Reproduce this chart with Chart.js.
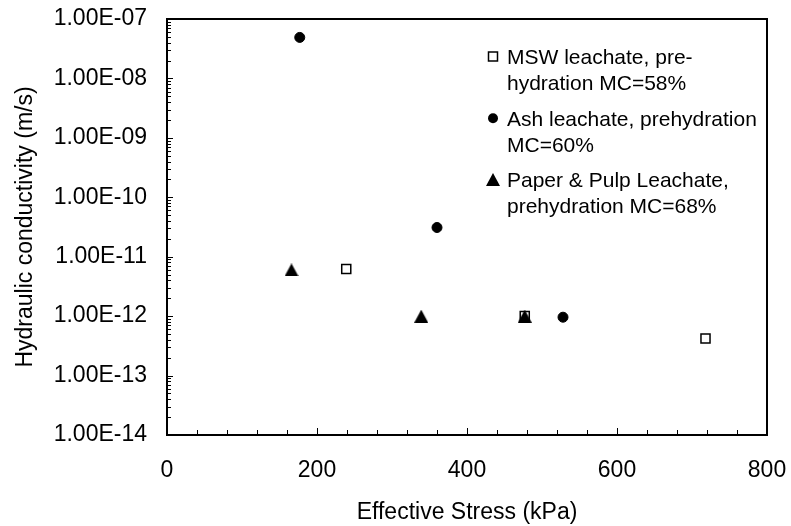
<!DOCTYPE html>
<html>
<head>
<meta charset="utf-8">
<title>Hydraulic conductivity vs effective stress</title>
<script src="https://cdn.jsdelivr.net/npm/chart.js"></script>
<style>
  body { margin: 0; background: #fff; }
  #wrap { width: 791px; height: 526px; }
</style>
</head>
<body>
<div id="wrap"><canvas id="chart" width="791" height="526"></canvas></div>
<script>
// values: effective stress (kPa) vs hydraulic conductivity (m/s)
const mswStress = [239, 477, 718];
const mswK = [6.2e-12, 1.0e-12, 4.2e-13];
const ashStress = [177, 360, 528];
const ashK = [4.9e-8, 3.1e-11, 9.6e-13];
const paperStress = [166, 339, 477];
const paperK = [6.0e-12, 1.0e-12, 1.0e-12];

const seriesNames = [
  'MSW leachate, pre-hydration MC=58%',
  'Ash leachate, prehydration MC=60%',
  'Paper & Pulp Leachate, prehydration MC=68%'
];
const legendLines = [
  ['MSW leachate, pre-', 'hydration MC=58%'],
  ['Ash leachate, prehydration', 'MC=60%'],
  ['Paper & Pulp Leachate,', 'prehydration MC=68%']
];

const xTicks = [0, 200, 400, 600, 800];
const yTicks = [1e-14, 1e-13, 1e-12, 1e-11, 1e-10, 1e-9, 1e-8, 1e-7];
const yTickLabels = ['1.00E-14', '1.00E-13', '1.00E-12', '1.00E-11',
                     '1.00E-10', '1.00E-09', '1.00E-08', '1.00E-07'];

const FONT = "'Liberation Sans', Arial, sans-serif";

function points(xs, ys) {
  return xs.map((x, i) => ({ x: x, y: ys[i] }));
}

// filled triangle centred on its box (Chart.js' own triangle sits a bit high)
function triangleMark(w, h) {
  const c = document.createElement('canvas');
  c.width = w;
  c.height = h;
  const g = c.getContext('2d');
  g.fillStyle = '#000';
  g.beginPath();
  g.moveTo(w / 2, 0);
  g.lineTo(w, h);
  g.lineTo(0, h);
  g.closePath();
  g.fill();
  return c;
}
const triangle = triangleMark(14, 13);

// box round the plot plus the small inward tick marks
const frameTicks = {
  id: 'frameTicks',
  beforeDatasetsDraw(chart) {
    const { ctx, chartArea: a, scales: { x, y } } = chart;
    ctx.save();
    ctx.strokeStyle = '#000';
    ctx.lineWidth = 1;
    ctx.beginPath();
    for (let v = x.min; v <= x.max; v += 40) {
      const px = Math.round(x.getPixelForValue(v)) + 0.5;
      const len = v % 200 === 0 ? 7 : 5;
      ctx.moveTo(px, a.bottom);
      ctx.lineTo(px, a.bottom - len);
    }
    const e0 = Math.round(Math.log10(y.min));
    const e1 = Math.round(Math.log10(y.max));
    for (let e = e0; e < e1; e++) {
      for (let k = 1; k < 10; k++) {
        const py = Math.round(y.getPixelForValue(k * Math.pow(10, e))) + 0.5;
        const len = k === 1 ? 6 : 4;
        ctx.moveTo(a.left, py);
        ctx.lineTo(a.left + len, py);
      }
    }
    ctx.stroke();
    ctx.lineWidth = 2;
    ctx.strokeRect(a.left, a.top, a.right - a.left, a.bottom - a.top);
    ctx.restore();
  }
};

// legend with two-line labels, drawn in the top right of the plot
const boxLegend = {
  id: 'boxLegend',
  afterDraw(chart) {
    const { ctx, chartArea: a } = chart;
    const markX = a.left + 326;
    const textX = a.left + 340;
    ctx.save();
    ctx.font = '21px ' + FONT;
    ctx.fillStyle = '#000';
    ctx.strokeStyle = '#000';
    ctx.textBaseline = 'alphabetic';
    legendLines.forEach((lines, i) => {
      const base = a.top + 45 + i * 61.7;
      lines.forEach((t, j) => ctx.fillText(t, textX, base + j * 26));
      const my = base - 7.5;
      const style = chart.data.datasets[i].pointStyle;
      ctx.beginPath();
      if (style === 'rect') {
        ctx.lineWidth = 1.5;
        ctx.fillStyle = '#fff';
        ctx.rect(markX - 4.5, my - 4.5, 9, 9);
        ctx.fill();
        ctx.stroke();
        ctx.fillStyle = '#000';
      } else if (style === 'circle') {
        ctx.arc(markX, my, 5, 0, Math.PI * 2);
        ctx.fill();
      } else {
        ctx.drawImage(style, Math.round(markX - style.width / 2), Math.round(my - style.height / 2));
      }
    });
    ctx.restore();
  }
};

new Chart(document.getElementById('chart'), {
  type: 'scatter',
  data: {
    datasets: [
      {
        label: seriesNames[0],
        data: points(mswStress, mswK),
        pointStyle: 'rect',
        pointRadius: 6.4,
        pointBorderWidth: 1.5,
        borderColor: '#000',
        backgroundColor: '#fff',
        order: 2
      },
      {
        label: seriesNames[1],
        data: points(ashStress, ashK),
        pointStyle: 'circle',
        pointRadius: 5,
        pointBorderWidth: 1,
        borderColor: '#000',
        backgroundColor: '#000',
        order: 1
      },
      {
        label: seriesNames[2],
        data: points(paperStress, paperK),
        pointStyle: triangle,
        pointRadius: 7,
        borderColor: '#000',
        backgroundColor: '#000',
        order: 0
      }
    ]
  },
  options: {
    responsive: false,
    animation: false,
    layout: { padding: 0 },
    plugins: {
      legend: { display: false },
      tooltip: { enabled: false }
    },
    scales: {
      x: {
        type: 'linear',
        min: 0,
        max: 800,
        grid: { display: false, drawTicks: false },
        border: { display: false },
        afterBuildTicks: s => { s.ticks = xTicks.map(v => ({ value: v })); },
        afterFit: s => {
          s.height = 91;
          s.paddingLeft = 0;
          s.paddingRight = 24;
        },
        ticks: {
          padding: 22,
          color: '#000',
          font: { family: FONT, size: 23 },
          callback: v => String(v)
        },
        title: {
          display: true,
          text: 'Effective Stress (kPa)',
          color: '#000',
          font: { family: FONT, size: 23 },
          padding: { top: 0, bottom: 0 }
        }
      },
      y: {
        type: 'logarithmic',
        min: 1e-14,
        max: 1e-7,
        grid: { display: false, drawTicks: false },
        border: { display: false },
        afterBuildTicks: s => { s.ticks = yTicks.map(v => ({ value: v })); },
        afterFit: s => {
          s.width = 167;
          s.paddingTop = 19;
          s.paddingBottom = 0;
        },
        ticks: {
          padding: 20,
          autoSkip: false,
          color: '#000',
          font: { family: FONT, size: 23 },
          callback: (v, i) => yTickLabels[i]
        },
        title: {
          display: true,
          text: 'Hydraulic conductivity (m/s)',
          color: '#000',
          font: { family: FONT, size: 23 },
          padding: { top: 12, bottom: 0 }
        }
      }
    }
  },
  plugins: [frameTicks, boxLegend]
});
</script>
</body>
</html>
